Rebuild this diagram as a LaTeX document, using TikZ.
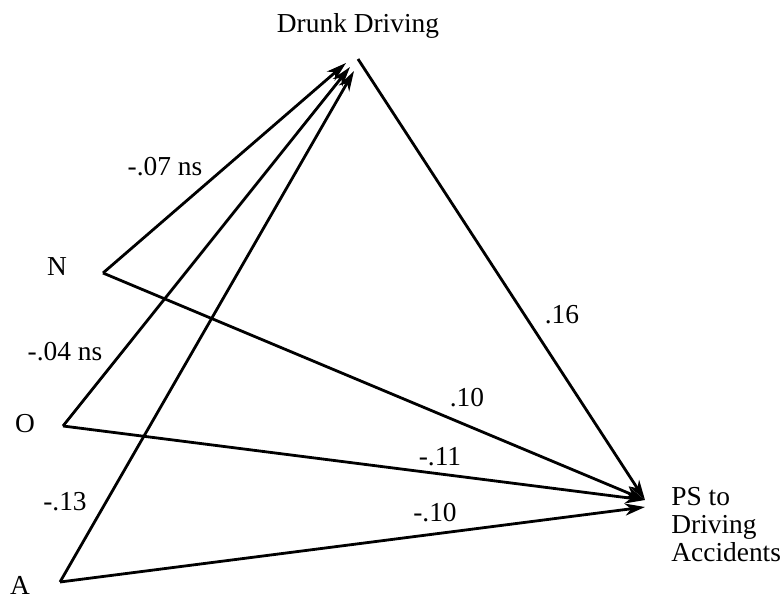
\documentclass[tikz,border=0pt]{standalone}
\usepackage{fontspec}
\setmainfont{Liberation Serif}
\usetikzlibrary{arrows.meta}

\begin{document}
\begin{tikzpicture}[x=0.5pt,y=-0.5pt,line width=1.4pt,font=\fontsize{13.7}{14}\selectfont,
  path/.style={-{Stealth[length=10pt,width=6pt,inset=3pt]}},
  coef/.style={inner sep=1pt}]
\useasboundingbox (0,0) rectangle (782,600);
% variables
\node (dd) at (358,26) {Drunk Driving};
\node[align=left,anchor=west,inner sep=0pt] (ps) at (670,525) {PS to\\Driving\\Accidents};
\node (nl) at (57,267) {N};
\node (ol) at (25,424) {O};
\node[inner sep=1pt] (al) at (20,585) {A};
% line ends
\coordinate (n) at (103,273);
\coordinate (o) at (63,426);
\coordinate (a) at (60,582);
\coordinate (ddn) at (346,63);
\coordinate (ddo) at (350,67);
\coordinate (dda) at (354,71);
\coordinate (ddout) at (358,59);
\coordinate (psin) at (645,500);
\coordinate (psa) at (645,507);
% paths
\draw[path] (n) -- (ddn);
\draw[path] (o) -- (ddo);
\draw[path] (a) -- (dda);
\draw[path] (ddout) -- (psin);
\draw[path] (n) -- (psin);
\draw[path] (o) -- (psin);
\draw[path] (a) -- (psa);
% coefficients
\node[coef] (c1) at (165,167) {-.07 ns};
\node[coef] (c2) at (65,352) {-.04 ns};
\node[coef] (c3) at (65,502) {-.13};
\node[coef] (c4) at (562,315) {.16};
\node[coef] (c5) at (467,398) {.10};
\node[coef] (c6) at (440,457) {-.11};
\node[coef] (c7) at (435,513) {-.10};
\end{tikzpicture}
\end{document}
